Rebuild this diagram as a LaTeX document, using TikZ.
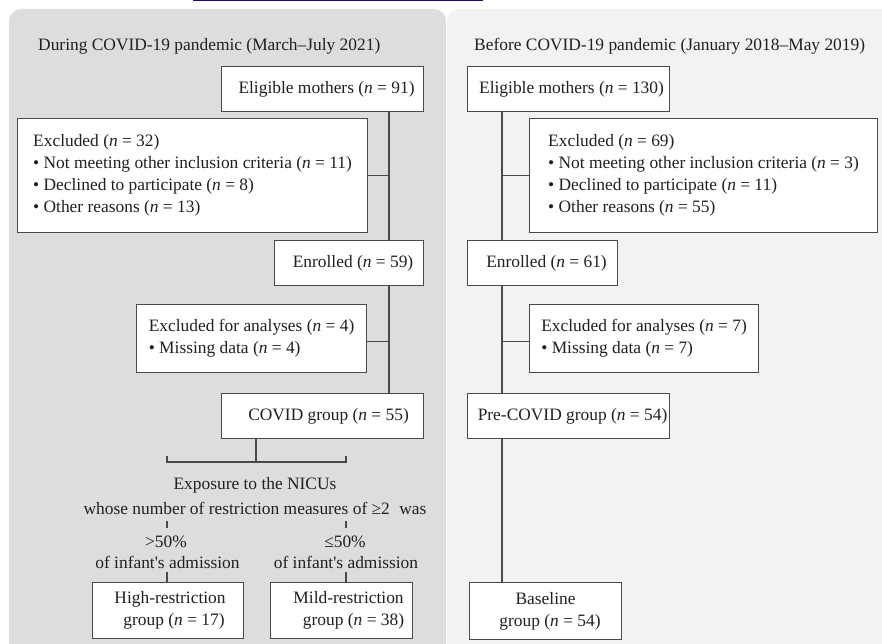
\documentclass[tikz,border=0pt]{standalone}
\usepackage{fontspec}
\setmainfont{Liberation Serif}
\definecolor{leftc}{HTML}{DCDDDF}
\definecolor{rightc}{HTML}{F1F2F4}
\definecolor{linec}{HTML}{4A4A4A}
\definecolor{txtc}{HTML}{231F20}
\definecolor{navyc}{HTML}{14145F}
\begin{document}
\begin{tikzpicture}[x=1pt,y=-1pt,
  font=\fontsize{17.4}{22}\selectfont, text=txtc,
  box/.style={draw=linec, line width=1.1pt, fill=white, inner sep=0pt, anchor=north west},
  conn/.style={draw=linec, line width=1.1pt},
  lbl/.style={inner sep=0pt}]
\useasboundingbox (0,0) rectangle (882,644);
% panels
\fill[leftc, rounded corners=12pt] (9,9) rectangle (446,680);
\fill[rightc, rounded corners=12pt] (447,9) rectangle (920,680);
\draw[navyc, line width=1.2pt] (193,0.6) -- (483,0.6);
% titles
\node[lbl, anchor=base west] (tl) at (38,51) {During COVID-19 pandemic (March–July 2021)};
\node[lbl, anchor=base west] (tr) at (474,51) {Before COVID-19 pandemic (January 2018–May 2019)};
% spine coordinates
\coordinate (sL) at (389,0);
\coordinate (sR) at (502,0);
\coordinate (sB) at (256,0);
% left column
\node[box, minimum width=202pt, minimum height=45pt] (le) at (221,66) {\hspace{8pt}Eligible mothers (\textit{n} = 91)};
\node[box, minimum width=350pt, minimum height=114pt, align=left] (lx) at (17,118) {Excluded (\textit{n} = 32)\\• Not meeting other inclusion criteria (\textit{n} = 11)\\• Declined to participate (\textit{n} = 8)\\• Other reasons (\textit{n} = 13)};
\node[box, minimum width=149pt, minimum height=45pt] (len) at (274,240) {\hspace{8pt}Enrolled (\textit{n} = 59)};
\node[box, minimum width=230pt, minimum height=68pt, align=left] (lx2) at (136,304) {Excluded for analyses (\textit{n} = 4)\\• Missing data (\textit{n} = 4)};
\node[box, minimum width=202pt, minimum height=45pt] (lc) at (221,393) {\hspace{12pt}COVID group (\textit{n} = 55)};
\node[lbl] (ex1) at (255,485) {Exposure to the NICUs};
\node[lbl] (ex2) at (255,508) {whose number of restriction measures of ≥2\hspace{5pt} was};
\node[lbl] (ph) at (166,542) {>50\%};
\node[lbl] (pm) at (345,542) {≤50\%};
\node[lbl] (ah) at (167.5,562) {of infant\textquotesingle s admission};
\node[lbl] (am) at (346,562) {of infant\textquotesingle s admission};
\node[box, minimum width=151pt, minimum height=56pt, align=center] (hi) at (92,582) {\hspace*{4pt}High-restriction\\\hspace*{12pt}group (\textit{n} = 17)};
\node[box, minimum width=142pt, minimum height=56pt, align=center] (mi) at (270,582) {\hspace*{14pt}Mild-restriction\\\hspace*{24pt}group (\textit{n} = 38)};
% left connectors
\draw[conn] (le.south -| sL) -- (len.north -| sL);
\draw[conn] (lx.east) -- (lx.east -| sL);
\draw[conn] (len.south -| sL) -- (lc.north -| sL);
\draw[conn] (lx2.east -| sL) ++(0,3) coordinate (b2) -- (b2 -| lx2.east);
\coordinate (bk) at (256,462);
\coordinate (bkL) at (167,462);
\coordinate (bkR) at (346,462);
\draw[conn] (lc.south -| sB) -- (bk);
\draw[conn] ([yshift=6pt]bkL) -- (bkL) -- (bkR) -- ([yshift=6pt]bkR);
\coordinate (t1a) at (167,521); \coordinate (t1b) at (167,528);
\coordinate (t2a) at (346,521); \coordinate (t2b) at (346,528);
\coordinate (t3a) at (167,572); \coordinate (t4a) at (346,572);
\draw[conn] (t1a) -- (t1b);
\draw[conn] (t2a) -- (t2b);
\draw[conn] (t3a) -- (t3a |- hi.north);
\draw[conn] (t4a) -- (t4a |- mi.north);
% right column
\node[box, minimum width=202pt, minimum height=45pt] (re) at (467,66) {\hspace{6pt}Eligible mothers (\textit{n} = 130)};
\node[box, minimum width=348pt, minimum height=114pt, align=left] (rx) at (529,118) {Excluded (\textit{n} = 69)\\• Not meeting other inclusion criteria (\textit{n} = 3)\\• Declined to participate (\textit{n} = 11)\\• Other reasons (\textit{n} = 55)};
\node[box, minimum width=150pt, minimum height=45pt] (ren) at (467,240) {\hspace{8pt}Enrolled (\textit{n} = 61)};
\node[box, minimum width=229pt, minimum height=68pt, align=left] (rx2) at (529,304) {Excluded for analyses (\textit{n} = 7)\\• Missing data (\textit{n} = 7)};
\node[box, minimum width=202pt, minimum height=45pt] (rp) at (467,393) {\hspace{8pt}Pre-COVID group (\textit{n} = 54)};
\node[box, minimum width=152pt, minimum height=57pt, align=center] (rb) at (469,582) {Baseline\\\hspace*{9pt}group (\textit{n} = 54)};
% right connectors
\draw[conn] (re.south -| sR) -- (ren.north -| sR);
\draw[conn] (rx.west) -- (rx.west -| sR);
\draw[conn] (ren.south -| sR) -- (rp.north -| sR);
\draw[conn] (rx2.west -| sR) ++(0,3) coordinate (b3) -- (b3 -| rx2.west);
\draw[conn] (rp.south -| sR) -- (rb.north -| sR);
\end{tikzpicture}
\end{document}
